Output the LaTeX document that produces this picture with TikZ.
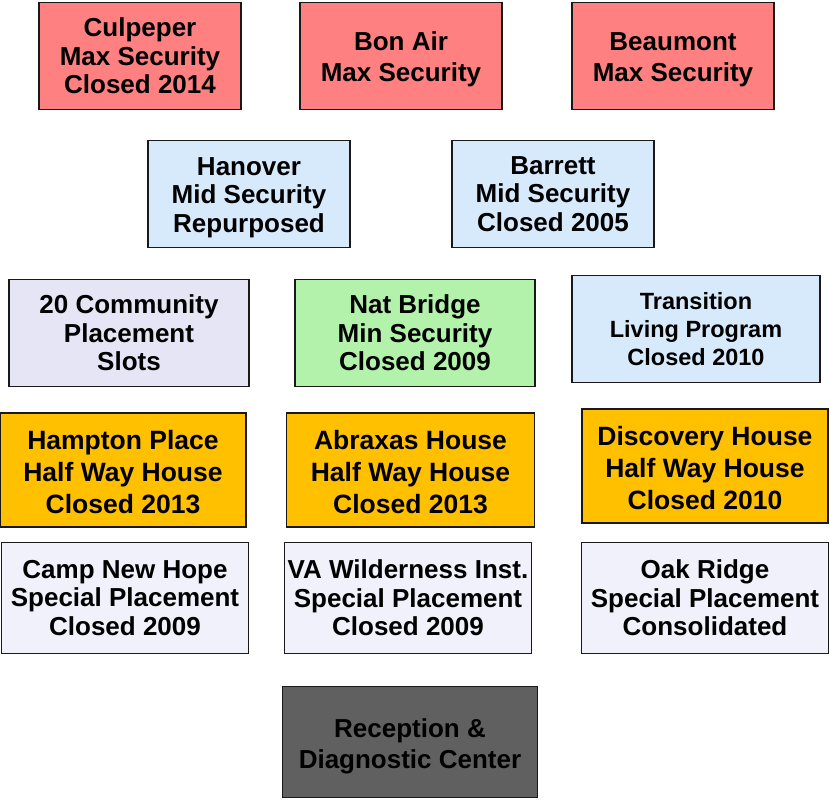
\documentclass[tikz,border=0pt]{standalone}
\usepackage{fontspec}
\setmainfont{Liberation Sans}
\usepackage{tikz}
\usepackage{xcolor}
\definecolor{cMax}{RGB}{255,128,128}
\definecolor{cMid}{RGB}{215,234,252}
\definecolor{cComm}{RGB}{229,229,246}
\definecolor{cMin}{RGB}{178,242,170}
\definecolor{cHalf}{RGB}{255,192,0}
\definecolor{cSpec}{RGB}{240,241,250}
\definecolor{cRdc}{RGB}{96,96,96}
% strut in the first line, pushes the text block down
\newcommand{\dropln}[1]{\rule{0pt}{#1}}
\tikzset{
	unit/.style    ={rectangle, draw=black!90, line width=1.8pt, inner sep=0pt, align=center, minimum width=202pt, minimum height=107pt, font=\fontsize{26}{28.5}\selectfont\bfseries},
	maxbox/.style  ={unit, fill=cMax},
	midbox/.style  ={unit, fill=cMid},
	commbox/.style ={unit, fill=cComm, minimum width=240pt},
	minbox/.style  ={unit, fill=cMin, minimum width=240pt},
	halfbox/.style ={unit, fill=cHalf, minimum width=246pt, minimum height=114pt, font=\fontsize{26.5}{32}\selectfont\bfseries},
	specbox/.style ={unit, fill=cSpec, minimum width=247pt, minimum height=111pt},
	rdcbox/.style  ={unit, fill=cRdc, minimum width=255pt, minimum height=111pt, font=\fontsize{26}{31}\selectfont\bfseries},
	twoline/.style ={font=\fontsize{26}{31}\selectfont\bfseries},
}
\begin{document}
\begin{tikzpicture}[x=1pt, y=-1pt]
	\useasboundingbox (0,0) rectangle (830,800);
	% max security
	\node[maxbox] (culpeper) at (140,56) {Culpeper\\Max Security\\Closed 2014};
	\node[maxbox, twoline] (bonair) at (401,56) {\dropln{25pt}Bon Air\\Max Security};
	\node[maxbox, twoline] (beaumont) at (673,56) {\dropln{25pt}Beaumont\\Max Security};
	% mid security
	\node[midbox] (hanover) at (249,194) {\dropln{25pt}Hanover\\Mid Security\\Repurposed};
	\node[midbox] (barrett) at (553,194) {Barrett\\Mid Security\\Closed 2005};
	% community, min security, transition
	\node[commbox] (community) at (129,333) {20 Community\\Placement\\Slots};
	\node[minbox] (natbridge) at (415,333) {Nat Bridge\\Min Security\\Closed 2009};
	\node[midbox, minimum width=248pt, font=\fontsize{23.5}{28}\selectfont\bfseries] (transition) at (696,329) {Transition\\Living Program\\Closed 2010};
	% half way houses
	\node[halfbox] (hampton) at (123,470) {\dropln{23.5pt}Hampton Place\\Half Way House\\Closed 2013};
	\node[halfbox, minimum width=248pt] (abraxas) at (410.5,470) {\dropln{23.5pt}Abraxas House\\Half Way House\\Closed 2013};
	\node[halfbox] (discovery) at (705,466) {\dropln{24pt}Discovery House\\Half Way House\\Closed 2010};
	% special placement
	\node[specbox] (campnewhope) at (125,598) {Camp New Hope\\Special Placement\\Closed 2009};
	\node[specbox] (vawilderness) at (408,598) {VA Wilderness Inst.\\Special Placement\\Closed 2009};
	\node[specbox] (oakridge) at (705,598) {Oak Ridge\\Special Placement\\Consolidated};
	% reception
	\node[rdcbox] (reception) at (410,742) {\dropln{27pt}Reception \&\\Diagnostic Center};
\end{tikzpicture}
\end{document}
